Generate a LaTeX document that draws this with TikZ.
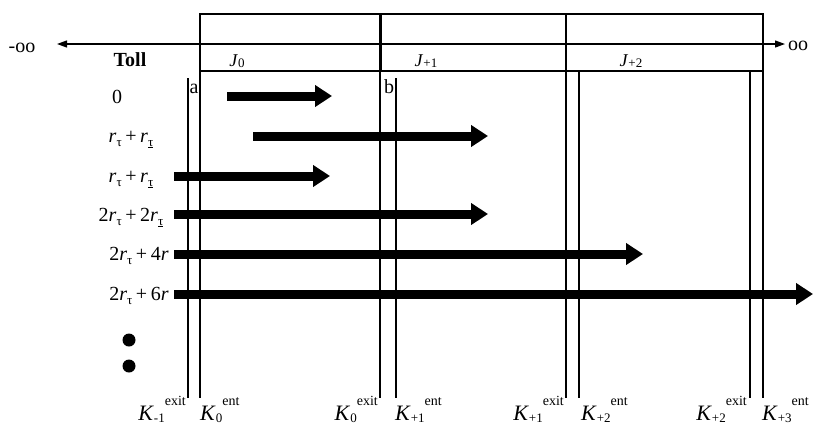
\documentclass[tikz,border=0pt]{standalone}
\usepackage{fontspec}
\setmainfont{Liberation Serif}
\usetikzlibrary{arrows.meta}

% indices with fixed sizes and shifts
\newcommand{\lowidx}[2][4pt]{\raisebox{-#1}{\fontsize{13}{13}\selectfont #2}}
\newcommand{\highidx}[1]{\raisebox{15pt}{\fontsize{14}{14}\selectfont #1}}
\newcommand{\rtau}{\textit{r}\lowidx{τ}}
\newcommand{\rtauu}{\textit{r}\lowidx{\underline{τ}}}
\newcommand{\plus}{\hspace{0.18em}+\hspace{0.18em}}
\newcommand{\Klab}[2]{\textit{K}\lowidx[2pt]{#1}\highidx{#2}}
\newcommand{\Jlab}[1]{\textit{J}\lowidx[1.5pt]{#1}}

\begin{document}
\begin{tikzpicture}[x=1pt,y=-1pt,
  txt/.style={font=\fontsize{20}{20}\selectfont, inner sep=0pt},
  jtxt/.style={font=\fontsize{18}{18}\selectfont, inner sep=0pt},
  ktxt/.style={font=\fontsize{22}{22}\selectfont, inner sep=0pt},
  rule/.style={line width=1.2pt},
  divider/.style={line width=3pt},
  move/.style={line width=9pt, -{Triangle[length=17pt,width=21pt]}},
  axis/.style={line width=1.2pt, {Triangle[length=10pt,width=7pt]}-{Triangle[length=10pt,width=7pt]}}]
\useasboundingbox (0,0) rectangle (814,426);

% infinite line of junctions
\node[txt, anchor=base] (ninf) at (22,52) {-oo};
\node[txt, anchor=base west] (pinf) at (788,50) {oo};
\coordinate (axl) at (57,44);
\coordinate (axr) at (785,44);
\draw[axis] (axl) -- (axr);

% junction segments
\draw[rule] (200,14) rectangle (763,71);
\draw[divider] (380,14) -- (380,71);
\draw[line width=2pt] (566,14) -- (566,71);
\node[jtxt, anchor=base] (j0) at (237,66) {\Jlab{0}};
\node[jtxt, anchor=base] (j1) at (426,66) {\Jlab{+1}};
\node[jtxt, anchor=base] (j2) at (631,66) {\Jlab{+2}};

% entrance / exit gates
\draw[rule] (188,78) -- (188,398);
\draw[rule] (200,71) -- (200,398);
\draw[line width=1.6pt] (380,71) -- (380,398);
\draw[rule] (396,78) -- (396,398);
\draw[rule] (566,71) -- (566,398);
\draw[rule] (579,71) -- (579,398);
\draw[rule] (750,71) -- (750,398);
\draw[rule] (763,71) -- (763,398);
\node[txt, anchor=base] (ga) at (194,93) {a};
\node[txt, anchor=base] (gb) at (389,93) {b};

% toll column
\node[txt, anchor=base, font=\fontsize{20}{20}\selectfont\bfseries] (toll) at (130,66) {Toll};
\node[txt, anchor=base] (t0) at (117,103) {0};
\node[txt, anchor=base] (t1) at (131,142) {\rtau\plus\rtauu};
\node[txt, anchor=base] (t2) at (131,182) {\rtau\plus\rtauu};
\node[txt, anchor=base] (t3) at (131,221) {2\rtau\plus2\rtauu};
\node[txt, anchor=base] (t4) at (139,260) {2\rtau\plus4\textit{r}};
\node[txt, anchor=base] (t5) at (139,300) {2\rtau\plus6\textit{r}};
\fill (129,340) circle (6.5);
\fill (129,366) circle (6.5);

% trips
\coordinate (s0) at (227,96);  \coordinate (e0) at (332,96);
\coordinate (s1) at (253,136); \coordinate (e1) at (488,136);
\coordinate (s2) at (174,176); \coordinate (e2) at (330,176);
\coordinate (s3) at (174,214); \coordinate (e3) at (488,214);
\coordinate (s4) at (174,254); \coordinate (e4) at (643,254);
\coordinate (s5) at (174,294); \coordinate (e5) at (813,294);
\foreach \i in {0,...,5} { \draw[move] (s\i) -- (e\i); }

% gate labels
\node[ktxt, anchor=base east] (k1x) at (186,420) {\Klab{-1}{exit}};
\node[ktxt, anchor=base west] (k0n) at (200,420) {\Klab{0}{ent}};
\node[ktxt, anchor=base east] (k0x) at (378,420) {\Klab{0}{exit}};
\node[ktxt, anchor=base west] (k1n) at (395,420) {\Klab{+1}{ent}};
\node[ktxt, anchor=base east] (k1xx) at (564,420) {\Klab{+1}{exit}};
\node[ktxt, anchor=base west] (k2n) at (581,420) {\Klab{+2}{ent}};
\node[ktxt, anchor=base east] (k2x) at (747,420) {\Klab{+2}{exit}};
\node[ktxt, anchor=base west] (k3n) at (762,420) {\Klab{+3}{ent}};
\end{tikzpicture}
\end{document}
